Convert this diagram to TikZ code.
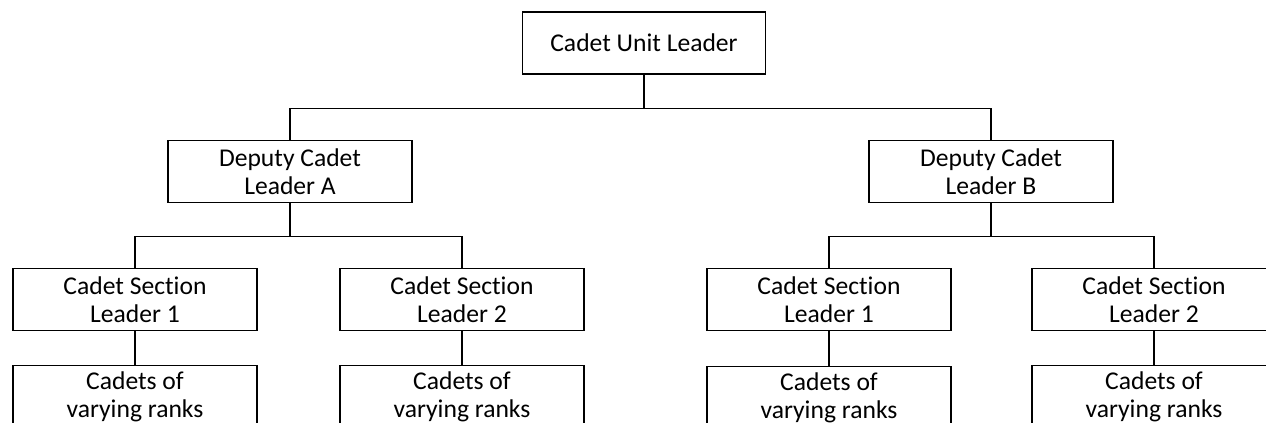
\documentclass[tikz,border=0pt]{standalone}
\usepackage{fontspec}
\setmainfont{Carlito}[Ligatures={NoCommon}]
\usepackage{tikz}
\usetikzlibrary{positioning}

\begin{document}
\begin{tikzpicture}[x=0.75pt,y=-0.75pt,line width=0.9pt]
  \tikzstyle{unit}=[draw,rectangle,minimum width=183pt,minimum height=47pt,
    inner sep=0pt,align=center,font=\fontsize{19.2}{21}\selectfont]
  \useasboundingbox (0,0) rectangle (1266,423);
  \clip (0,0) rectangle (1266,423);

  \node[unit,minimum width=182pt,minimum height=46.5pt] (lead) at (644,43) {Cadet Unit Leader};

  \node[unit] (depA) at (290,171.5) {Deputy Cadet\\Leader A};
  \node[unit] (depB) at (991,171.5) {Deputy Cadet\\Leader B};

  \node[unit] (secA1) at (135,299.5) {Cadet Section\\Leader 1};
  \node[unit] (secA2) at (462,299.5) {Cadet Section\\Leader 2};
  \node[unit] (secB1) at (829,299.5) {Cadet Section\\Leader 1};
  \node[unit] (secB2) at (1154,299.5) {Cadet Section\\Leader 2};

  \node[unit] (cadA1) at (135,396.5) {Cadets of\\varying ranks};
  \node[unit] (cadA2) at (462,396.5) {Cadets of\\varying ranks};
  \node[unit] (cadB1) at (829,397.5) {Cadets of\\varying ranks};
  \node[unit] (cadB2) at (1154,396.5) {Cadets of\\varying ranks};

  % branches
  \draw (lead.south) -- ++(0,34) coordinate (jl);
  \draw (jl) -| (depA.north);
  \draw (jl) -| (depB.north);

  \draw (depA.south) -- ++(0,33) coordinate (ja);
  \draw (ja) -| (secA1.north);
  \draw (ja) -| (secA2.north);
  \draw (depB.south) -- ++(0,33) coordinate (jb);
  \draw (jb) -| (secB1.north);
  \draw (jb) -| (secB2.north);

  \draw (secA1) -- (cadA1);
  \draw (secA2) -- (cadA2);
  \draw (secB1) -- (cadB1);
  \draw (secB2) -- (cadB2);
\end{tikzpicture}
\end{document}
